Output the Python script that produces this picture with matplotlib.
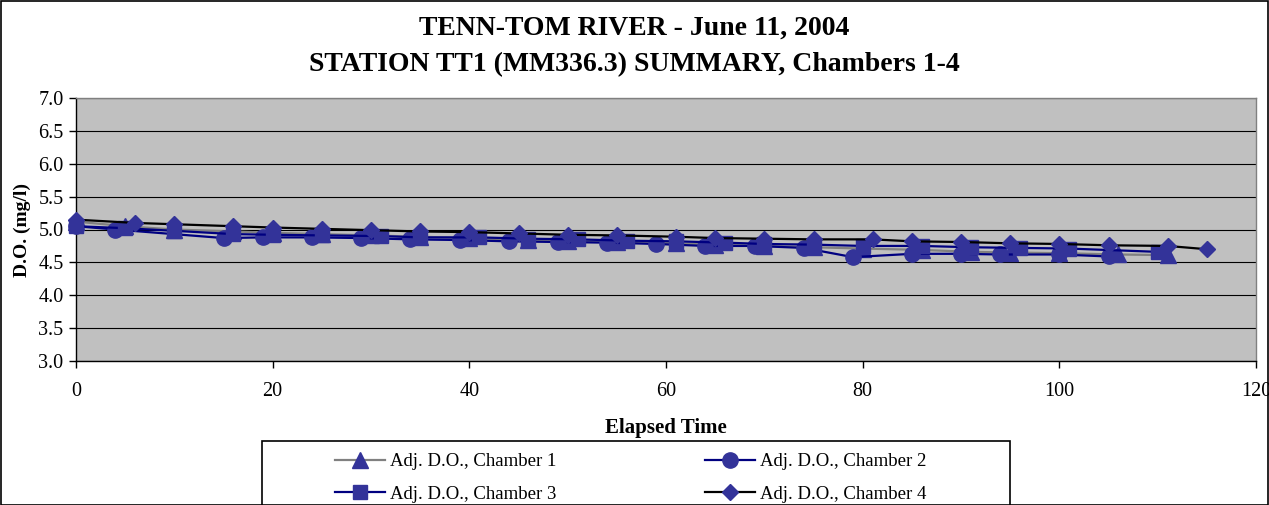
import matplotlib
matplotlib.use("Agg")
import matplotlib.pyplot as plt
from matplotlib.patches import Rectangle

plt.rcParams['font.family'] = ['Liberation Serif', 'DejaVu Serif']

title = "TENN-TOM RIVER - June 11, 2004\nSTATION TT1 (MM336.3) SUMMARY, Chambers 1-4"
x_label = "Elapsed Time"
y_label = "D.O. (mg/l)"

ch1_x = [0, 5, 10, 16, 20, 25, 30, 35, 40, 46, 50, 55, 61, 65, 70, 75, 80, 86, 91, 95, 100, 106, 111]
ch1_y = [5.12, 5.05, 5.00, 4.97, 4.95, 4.93, 4.91, 4.89, 4.87, 4.84, 4.83, 4.81, 4.79, 4.77, 4.75,
         4.73, 4.71, 4.69, 4.66, 4.65, 4.64, 4.62, 4.61]

ch2_x = [0, 4, 15, 19, 24, 29, 34, 39, 44, 49, 54, 59, 64, 69, 74, 79, 85, 90, 94, 100, 105]
ch2_y = [5.05, 5.00, 4.87, 4.88, 4.88, 4.87, 4.85, 4.84, 4.82, 4.81, 4.80, 4.78, 4.75, 4.75, 4.72,
         4.58, 4.63, 4.63, 4.62, 4.62, 4.59]

ch3_x = [0, 5, 10, 16, 20, 25, 31, 35, 41, 46, 51, 56, 61, 66, 70, 75, 80, 86, 91, 96, 101, 110]
ch3_y = [5.05, 5.02, 4.98, 4.93, 4.92, 4.91, 4.90, 4.88, 4.88, 4.86, 4.85, 4.83, 4.82, 4.80, 4.78,
         4.77, 4.75, 4.75, 4.73, 4.72, 4.71, 4.66]

ch4_x = [0, 6, 10, 16, 20, 25, 30, 35, 40, 45, 50, 55, 61, 65, 70, 75, 81, 85, 90, 95, 100, 105, 111, 115]
ch4_y = [5.15, 5.10, 5.08, 5.05, 5.03, 5.01, 4.99, 4.97, 4.96, 4.94, 4.92, 4.91, 4.89, 4.87, 4.86,
         4.85, 4.85, 4.82, 4.81, 4.79, 4.78, 4.76, 4.75, 4.70]

labels = ["Adj. D.O., Chamber 1", "Adj. D.O., Chamber 2",
          "Adj. D.O., Chamber 3", "Adj. D.O., Chamber 4"]

x_ticks = [0, 20, 40, 60, 80, 100, 120]
y_ticks = [3.0, 3.5, 4.0, 4.5, 5.0, 5.5, 6.0, 6.5, 7.0]

W, H = 1269, 505
fig = plt.figure(figsize=(W / 100, H / 100), dpi=100)
ax = fig.add_axes([76 / W, 1 - 361 / H, (1256 - 76) / W, (361 - 98) / H])
ax.set_facecolor('#C0C0C0')

mfc = '#333399'
series = [
    (ch1_x, ch1_y, '#808080', '^', 11),
    (ch2_x, ch2_y, '#000080', 'o', 11),
    (ch3_x, ch3_y, '#000080', 's', 10),
    (ch4_x, ch4_y, '#000000', 'D', 8),
]
handles = []
for (xs, ys, col, mk, ms), lab in zip(series, labels):
    h, = ax.plot(xs, ys, color=col, lw=1.6, marker=mk, ms=ms, mfc=mfc, mec=mfc,
                 label=lab, zorder=3, clip_on=False)
    handles.append(h)

ax.set_xlim(0, 120)
ax.set_ylim(3.0, 7.0)
ax.set_xticks(x_ticks)
ax.set_xticklabels([str(t) for t in x_ticks])
ax.set_yticks(y_ticks)
ax.set_yticklabels([f"{t:.1f}" for t in y_ticks])
ax.yaxis.grid(True, color='#000000', lw=0.8)
ax.set_axisbelow(True)
for s in ax.spines.values():
    s.set_color('#808080')
    s.set_linewidth(1.0)
ax.spines['left'].set_color('#000000')
ax.spines['bottom'].set_color('#000000')
ax.tick_params(axis='both', labelsize=14.5, direction='out', length=5, width=1, colors='#000000')
ax.tick_params(axis='x', pad=10)
ax.tick_params(axis='y', pad=4)

fig.text(0.5, 1 - 46.5 / H, title, ha='center', va='center', fontsize=20, fontweight='bold',
         linespacing=1.6)
fig.text(22 / W, 1 - 230 / H, y_label, rotation=90, ha='center', va='center', fontsize=14,
         fontweight='bold')
fig.text(666 / W, 1 - 428 / H, x_label, ha='center', va='center', fontsize=15, fontweight='bold')

# legend box
fig.add_artist(Rectangle((262 / W, -0.1), (1010 - 262) / W, (1 - 441 / H) + 0.1,
                         transform=fig.transFigure, fill=False, ec='black', lw=1.2))
order = [handles[0], handles[2], handles[1], handles[3]]
order_labels = [labels[0], labels[2], labels[1], labels[3]]
leg = fig.legend(order, order_labels, loc='upper left', bbox_to_anchor=(326 / W, 1 - 444 / H),
                 ncol=2, frameon=False, fontsize=13.5, borderpad=0, handlelength=2.67,
                 handletextpad=0.27, columnspacing=7.9, labelspacing=0.82)

# figure border
fig.add_artist(Rectangle((0.5 / W, 0), 1 - 1.5 / W, 1 - 0.5 / H, transform=fig.transFigure,
                         fill=False, ec='black', lw=1.2))

fig.savefig('out.png', dpi=100)
